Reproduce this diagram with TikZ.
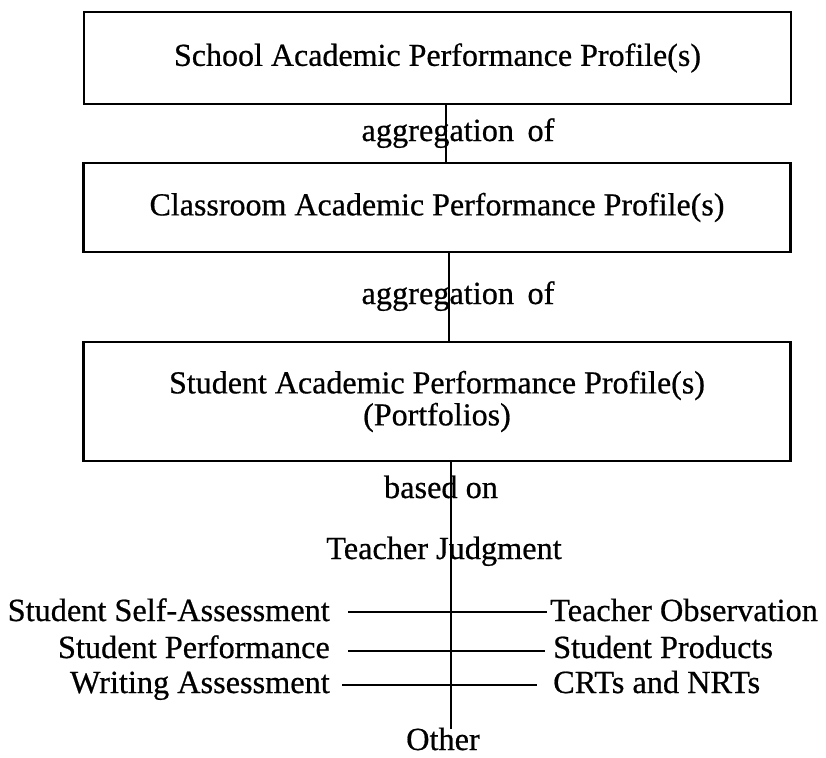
\documentclass[tikz,border=0pt]{standalone}
\usepackage{fontspec}
\setmainfont[FakeBold=0.6]{Liberation Serif}
\usetikzlibrary{calc}
\begin{document}
\begin{tikzpicture}[x=1pt,y=-1pt,
  box/.style={draw,line width=2.6pt,minimum width=707pt,inner sep=0pt,align=center,font=\fontsize{32}{32}\selectfont},
  lbl/.style={inner sep=0pt,font=\fontsize{32.3}{33}\selectfont},
  conn/.style={line width=1.4pt}]
\useasboundingbox (0,0) rectangle (826,757);
\node[box,minimum height=92pt] (b1) at (437.5,58) {School Academic Performance Profile(s)};
\node[box,minimum height=89pt] (b2) at (437,207.5) {Classroom Academic Performance Profile(s)};
\node[box,minimum height=119pt] (b3) at (437,401.5) {Student Academic Performance Profile(s)\\(Portfolios)};
\coordinate (v1) at (446,0);
\coordinate (v2) at (449,0);
\coordinate (v3) at (451,0);
\node[lbl,anchor=base] (o) at (443,750) {Other};
\draw[conn] (b1.south -| v1) -- (b2.north -| v1);
\draw[conn] (b2.south -| v2) -- (b3.north -| v2);
\draw[conn] (b3.south -| v3) -- ($(o.north -| v3)+(0,2)$);
\node[lbl,anchor=base] (a1) at (458,141) {aggregation\, of};
\node[lbl,anchor=base] (a2) at (458,304) {aggregation\, of};
\node[lbl,anchor=base] (bo) at (441,498) {based on};
\node[lbl,anchor=base] (tj) at (444,559) {Teacher Judgment};
\node[lbl,anchor=base east] (l1) at (330,621) {Student Self-Assessment};
\node[lbl,anchor=base east] (l2) at (330,658) {Student Performance};
\node[lbl,anchor=base east] (l3) at (330,693) {Writing Assessment};
\node[lbl,anchor=base west] (r1) at (550,621) {Teacher Observation};
\node[lbl,anchor=base west] (r2) at (553,658) {Student Products};
\node[lbl,anchor=base west] (r3) at (553,693) {CRTs and NRTs};
\draw[conn] ($(l1.base east)+(18,-9)$) -- ($(r1.base west)+(-3,-9)$);
\draw[conn] ($(l2.base east)+(18,-7)$) -- ($(r2.base west)+(-8,-7)$);
\draw[conn] ($(l3.base east)+(12,-8)$) -- ($(r3.base west)+(-16,-8)$);
\end{tikzpicture}
\end{document}
